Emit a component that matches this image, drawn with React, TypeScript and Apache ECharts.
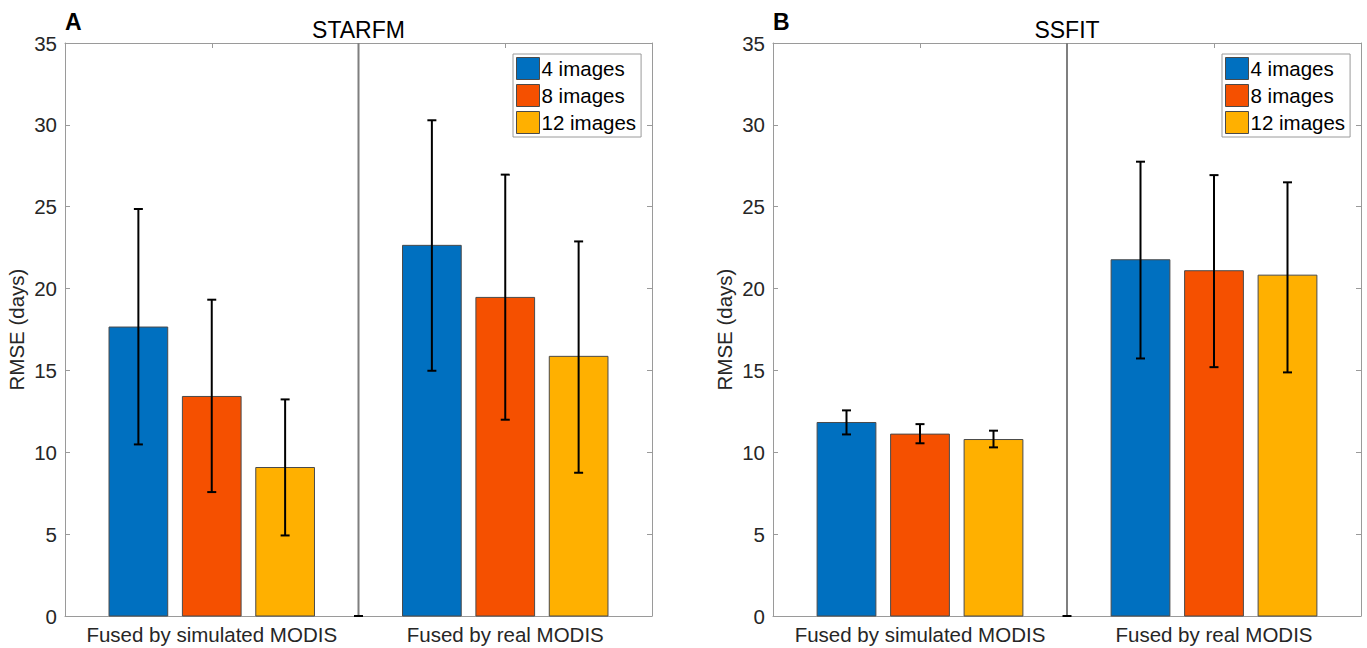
import { useEffect, useRef } from "react";
import * as echarts from "echarts";

const categories = ["Fused by simulated MODIS", "Fused by real MODIS"];
const imageCounts = ["4 images", "8 images", "12 images"];
const panelTitles = ["STARFM", "SSFIT"];
const panelLetters = ["A", "B"];
const yTicks = [0, 35, 5];

// rows: 4, 8, 12 images; columns: simulated, real
const starfmMeans = [
  [17.65, 22.64],
  [13.41, 19.46],
  [9.07, 15.86],
];
const starfmLow = [
  [10.48, 14.98],
  [7.57, 11.99],
  [4.92, 8.75],
];
const starfmHigh = [
  [24.86, 30.28],
  [19.32, 26.96],
  [13.23, 22.88],
];

const ssfitMeans = [
  [11.82, 21.76],
  [11.11, 21.09],
  [10.78, 20.82],
];
const ssfitLow = [
  [11.09, 15.73],
  [10.55, 15.2],
  [10.3, 14.88],
];
const ssfitHigh = [
  [12.56, 27.75],
  [11.72, 26.93],
  [11.32, 26.49],
];

const colors = ["#0070C0", "#F55000", "#FFB000"];
const offsets = [-0.25, 0, 0.25];
const barWidth = 0.2;
const FONT = "'Liberation Sans', Arial, Helvetica, sans-serif";
const AXIS = "#9a9a9a";
const TXT = "#262626";

const grids = [
  { left: 65, top: 43, width: 587, height: 573 },
  { left: 773, top: 43, width: 588, height: 573 },
];

function barSeries(panel: number, means: number[][], lows: number[][], highs: number[][]) {
  return imageCounts.map((name, i) => ({
    type: "custom",
    name,
    xAxisIndex: panel * 2,
    yAxisIndex: panel * 2,
    itemStyle: { color: colors[i], borderColor: "#3a3a3a", borderWidth: 1 },
    encode: { x: 0, y: [1, 2, 3] },
    data: categories.map((_, j) => [j + 1, means[i][j], lows[i][j], highs[i][j]]),
    renderItem: (params: any, api: any) => {
      const x = api.value(0) + offsets[i];
      const base = api.coord([x, 0]);
      const top = api.coord([x, api.value(1)]);
      const lo = api.coord([x, api.value(2)]);
      const hi = api.coord([x, api.value(3)]);
      const w = api.size([barWidth, 0])[0];
      const cap = 4.5;
      const es = { stroke: "#000", lineWidth: 2 };
      return {
        type: "group",
        children: [
          {
            type: "rect",
            shape: { x: base[0] - w / 2, y: top[1], width: w, height: base[1] - top[1] },
            style: { fill: colors[i], stroke: "#4a4a4a", lineWidth: 1 },
          },
          { type: "line", shape: { x1: lo[0], y1: lo[1], x2: hi[0], y2: hi[1] }, style: es },
          { type: "line", shape: { x1: hi[0] - cap, y1: hi[1], x2: hi[0] + cap, y2: hi[1] }, style: es },
          { type: "line", shape: { x1: lo[0] - cap, y1: lo[1], x2: lo[0] + cap, y2: lo[1] }, style: es },
        ],
      };
    },
  }));
}

function dividerSeries(panel: number) {
  return {
    type: "custom",
    name: "divider",
    xAxisIndex: panel * 2,
    yAxisIndex: panel * 2,
    encode: { x: 0, y: [1, 2] },
    data: [[1.5, yTicks[0], yTicks[1]]],
    renderItem: (params: any, api: any) => {
      const b = api.coord([api.value(0), api.value(1)]);
      const t = api.coord([api.value(0), api.value(2)]);
      return {
        type: "group",
        children: [
          { type: "line", shape: { x1: b[0], y1: b[1], x2: t[0], y2: t[1] }, style: { stroke: "#7f7f7f", lineWidth: 2 } },
          { type: "line", shape: { x1: b[0] - 4.5, y1: b[1], x2: b[0] + 4.5, y2: b[1] }, style: { stroke: "#000", lineWidth: 2 } },
        ],
      };
    },
  };
}

function xAxes(panel: number) {
  const common = {
    type: "value",
    gridIndex: panel,
    min: 0.5,
    max: 2.5,
    splitLine: { show: false },
    axisLine: { show: true, onZero: false, lineStyle: { color: AXIS, width: 1 } },
    axisTick: { show: true, inside: true, length: 5, customValues: [1, 2], lineStyle: { color: AXIS } },
  };
  return [
    {
      ...common,
      position: "bottom",
      axisLabel: {
        show: true,
        customValues: [1, 2],
        formatter: (v: number) => categories[Math.round(v) - 1],
        fontSize: 20.5,
        color: TXT,
        fontFamily: FONT,
        margin: 8,
      },
    },
    { ...common, position: "top", axisLabel: { show: false } },
  ];
}

function yAxes(panel: number) {
  const common = {
    type: "value",
    gridIndex: panel,
    min: yTicks[0],
    max: yTicks[1],
    interval: yTicks[2],
    splitLine: { show: false },
    axisLine: { show: true, onZero: false, lineStyle: { color: AXIS, width: 1 } },
    axisTick: { show: true, inside: true, length: 5, lineStyle: { color: AXIS } },
  };
  return [
    {
      ...common,
      position: "left",
      name: "RMSE (days)",
      nameLocation: "middle",
      nameRotate: 90,
      nameGap: 38,
      nameTextStyle: { fontSize: 20.5, color: TXT, fontFamily: FONT },
      axisLabel: { fontSize: 20.5, color: TXT, fontFamily: FONT, margin: 8 },
    },
    { ...common, position: "right", axisLabel: { show: false } },
  ];
}

function legendFor(panel: number) {
  return {
    orient: "vertical",
    left: grids[panel].left + grids[panel].width - 139,
    top: 54,
    itemWidth: 23,
    itemHeight: 22,
    itemGap: 4,
    padding: [3, 5, 3, 3],
    borderColor: "#9a9a9a",
    borderWidth: 1,
    backgroundColor: "#fff",
    icon: "rect",
    selectedMode: false,
    textStyle: { fontSize: 20.5, color: "#000", fontFamily: FONT, padding: [0, 0, 0, -3] },
    data: imageCounts.map((n, i) => ({
      name: n,
      itemStyle: { color: colors[i], borderColor: "#4a4a4a", borderWidth: 1 },
    })),
  };
}

export default function App() {
  const ref = useRef<HTMLDivElement>(null);
  useEffect(() => {
    if (!ref.current) return;
    const chart = echarts.init(ref.current, null, { renderer: "svg" });
    const graphicTexts: any[] = [];
    [0, 1].forEach((p) => {
      graphicTexts.push({
        type: "text",
        x: grids[p].left,
        y: 22,
        style: { text: panelLetters[p], fill: "#000", font: `bold 23px ${FONT}`, textVerticalAlign: "middle" },
      });
      graphicTexts.push({
        type: "text",
        x: grids[p].left + grids[p].width / 2,
        y: 30,
        style: { text: panelTitles[p], font: `23px ${FONT}`, fill: "#000", textAlign: "center", textVerticalAlign: "middle" },
      });
    });
    chart.setOption({
      animation: false,
      backgroundColor: "#fff",
      textStyle: { fontFamily: FONT },
      grid: grids.map((g) => ({ ...g, show: false })),
      xAxis: [...xAxes(0), ...xAxes(1)],
      yAxis: [...yAxes(0), ...yAxes(1)],
      legend: [legendFor(0), legendFor(1)],
      graphic: graphicTexts,
      series: [
        dividerSeries(0),
        ...barSeries(0, starfmMeans, starfmLow, starfmHigh),
        dividerSeries(1),
        ...barSeries(1, ssfitMeans, ssfitLow, ssfitHigh),
      ],
    });
    return () => chart.dispose();
  }, []);
  return <div ref={ref} style={{ position: "fixed", left: 0, top: 0, width: 1367, height: 648 }} />;
}
